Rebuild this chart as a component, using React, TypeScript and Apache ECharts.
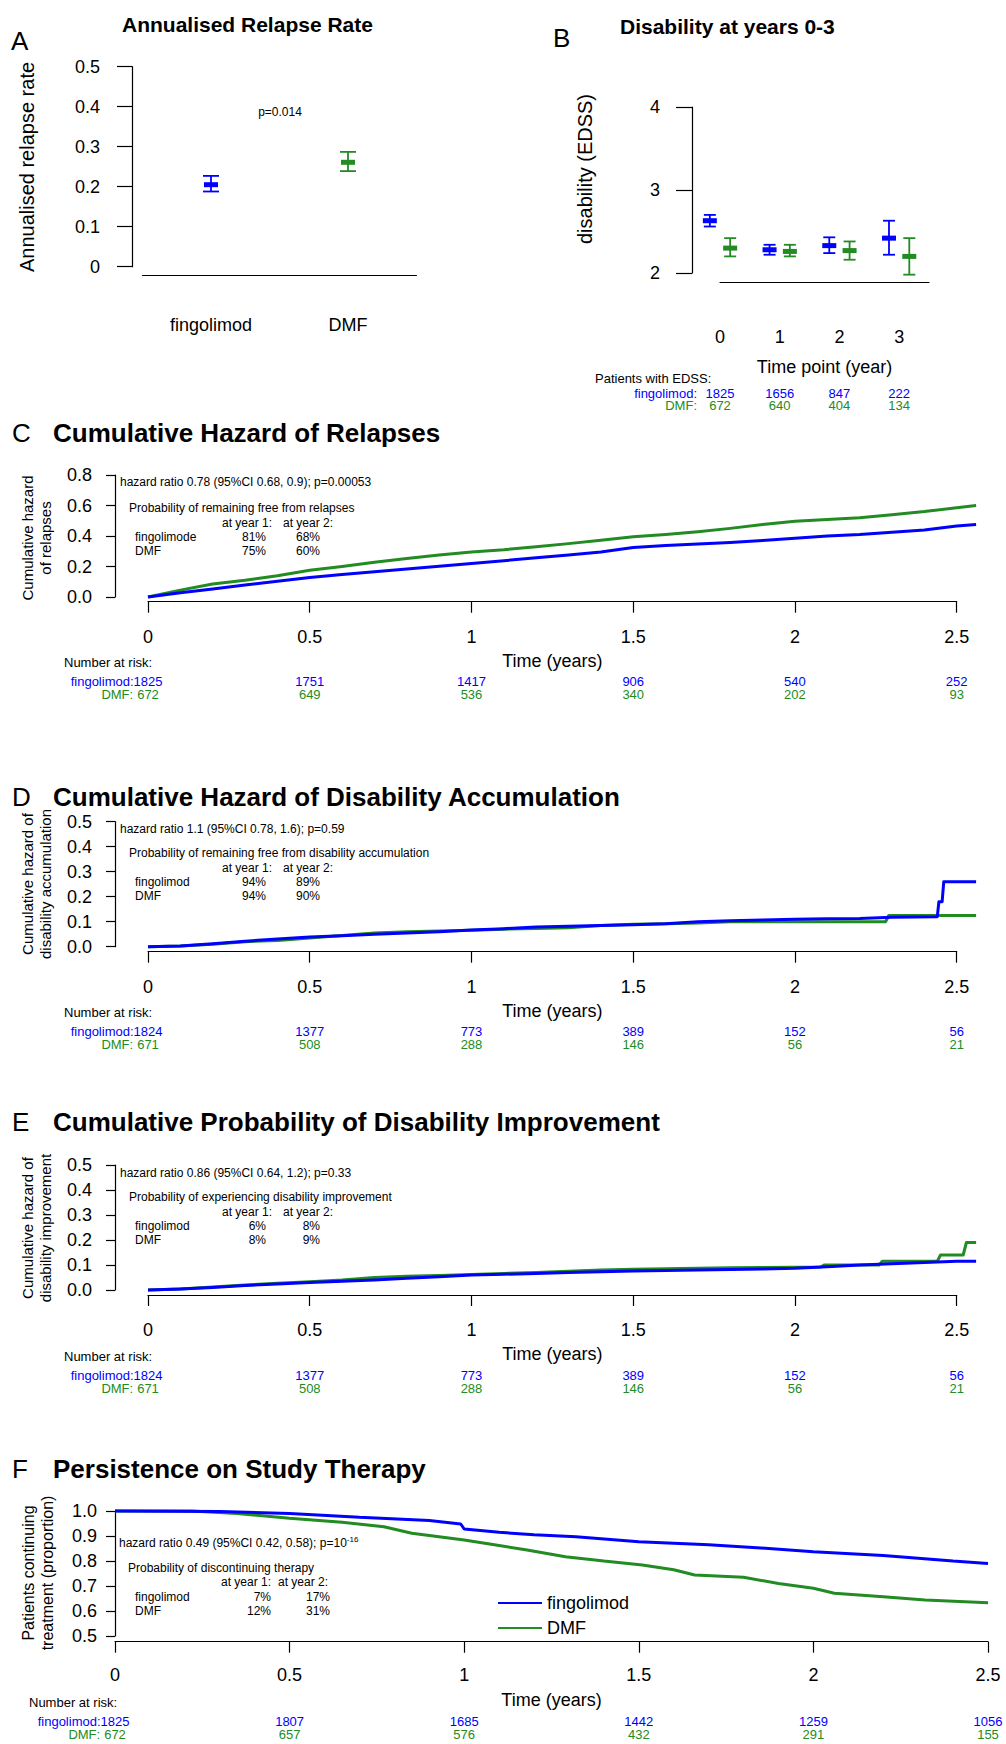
import React, { useEffect, useRef } from 'react';
import * as echarts from 'echarts';

const BLUE = '#0000ff';
const GREEN = '#228b22';
const FONT = "'Liberation Sans', Arial, Helvetica, sans-serif";

// ---------- Panel A: annualised relapse rate ----------
const arrGroups = ['fingolimod', 'DMF'];
const arrMean = [0.205, 0.261];
const arrLow = [0.188, 0.239];
const arrHigh = [0.227, 0.287];
const arrPValue = 'p=0.014';

// ---------- Panel B: disability (EDSS) ----------
const edssYears = [0, 1, 2, 3];
const edssFingMean = [2.63, 2.28, 2.33, 2.42];
const edssFingLow = [2.56, 2.22, 2.24, 2.22];
const edssFingHigh = [2.7, 2.34, 2.43, 2.63];
const edssDmfMean = [2.3, 2.26, 2.27, 2.2];
const edssDmfLow = [2.2, 2.2, 2.16, 1.98];
const edssDmfHigh = [2.42, 2.34, 2.38, 2.42];
const edssNFing = [1825, 1656, 847, 222];
const edssNDmf = [672, 640, 404, 134];

// ---------- shared time ticks for risk tables ----------
const riskTimes = [0, 0.5, 1, 1.5, 2, 2.5];

// ---------- Panel C: cumulative hazard of relapses ----------
const relapseTimes = [0, 0.1, 0.2, 0.3, 0.4, 0.5, 0.6, 0.7, 0.8, 0.9, 1.0, 1.1, 1.2, 1.3, 1.4, 1.5, 1.6, 1.7, 1.8, 1.9, 2.0, 2.1, 2.2, 2.3, 2.4, 2.5, 2.56];
const relapseFing = [0, 0.028, 0.053, 0.078, 0.103, 0.128, 0.148, 0.165, 0.183, 0.202, 0.22, 0.238, 0.257, 0.275, 0.295, 0.325, 0.338, 0.348, 0.358, 0.37, 0.385, 0.4, 0.41, 0.425, 0.44, 0.465, 0.475];
const relapseDmf = [0, 0.045, 0.085, 0.11, 0.14, 0.175, 0.2, 0.228, 0.252, 0.275, 0.295, 0.31, 0.33, 0.35, 0.372, 0.395, 0.41, 0.428, 0.45, 0.475, 0.497, 0.508, 0.52, 0.54, 0.56, 0.585, 0.6];
const relapseRiskFing = [1825, 1751, 1417, 906, 540, 252];
const relapseRiskDmf = [672, 649, 536, 340, 202, 93];
const relapseFreeFing = ['81%', '68%'];
const relapseFreeDmf = ['75%', '60%'];

// ---------- Panel D: cumulative hazard of disability accumulation ----------
const accumFingTimes = [0, 0.1, 0.2, 0.3, 0.4, 0.5, 0.6, 0.7, 0.8, 0.9, 1.0, 1.1, 1.2, 1.3, 1.4, 1.5, 1.6, 1.7, 1.8, 1.9, 2.0, 2.1, 2.2, 2.3, 2.44, 2.445, 2.455, 2.46, 2.56];
const accumFing = [0, 0.003, 0.012, 0.022, 0.031, 0.039, 0.044, 0.05, 0.055, 0.06, 0.067, 0.072, 0.079, 0.082, 0.085, 0.088, 0.092, 0.1, 0.104, 0.107, 0.11, 0.112, 0.113, 0.118, 0.12, 0.18, 0.18, 0.26, 0.26];
const accumDmfTimes = [0, 0.1, 0.2, 0.3, 0.4, 0.5, 0.6, 0.7, 0.8, 0.9, 1.0, 1.1, 1.2, 1.3, 1.4, 1.5, 1.6, 1.7, 1.8, 2.28, 2.29, 2.56];
const accumDmf = [0, 0.003, 0.01, 0.02, 0.025, 0.035, 0.045, 0.055, 0.06, 0.063, 0.066, 0.07, 0.073, 0.076, 0.085, 0.09, 0.092, 0.095, 0.1, 0.1, 0.125, 0.125];
const accumRiskFing = [1824, 1377, 773, 389, 152, 56];
const accumRiskDmf = [671, 508, 288, 146, 56, 21];
const accumFreeFing = ['94%', '89%'];
const accumFreeDmf = ['94%', '90%'];

// ---------- Panel E: cumulative probability of disability improvement ----------
const improveFingTimes = [0, 0.1, 0.2, 0.3, 0.4, 0.5, 0.6, 0.7, 0.8, 0.9, 1.0, 1.1, 1.2, 1.3, 1.4, 1.5, 1.6, 1.7, 1.8, 1.9, 2.0, 2.1, 2.2, 2.3, 2.4, 2.5, 2.56];
const improveFing = [0, 0.004, 0.01, 0.018, 0.024, 0.03, 0.035, 0.04, 0.047, 0.053, 0.06, 0.063, 0.066, 0.07, 0.073, 0.076, 0.078, 0.08, 0.082, 0.084, 0.087, 0.093, 0.1, 0.105, 0.11, 0.115, 0.115];
const improveDmfTimes = [0, 0.1, 0.2, 0.3, 0.4, 0.5, 0.6, 0.7, 0.8, 0.9, 1.0, 1.1, 1.2, 1.3, 1.4, 1.5, 1.6, 1.7, 1.8, 1.9, 2.08, 2.09, 2.26, 2.27, 2.44, 2.45, 2.52, 2.53, 2.56];
const improveDmf = [0, 0.004, 0.012, 0.02, 0.027, 0.033, 0.04, 0.05, 0.055, 0.058, 0.062, 0.066, 0.07, 0.075, 0.08, 0.083, 0.085, 0.087, 0.089, 0.09, 0.092, 0.1, 0.1, 0.115, 0.115, 0.14, 0.14, 0.19, 0.19];
const improveRiskFing = [1824, 1377, 773, 389, 152, 56];
const improveRiskDmf = [671, 508, 288, 146, 56, 21];
const improveProbFing = ['6%', '8%'];
const improveProbDmf = ['8%', '9%'];

// ---------- Panel F: persistence on study therapy ----------
const persistFingTimes = [0, 0.3, 0.5, 0.7, 0.9, 0.99, 1.0, 1.1, 1.2, 1.32, 1.5, 1.7, 1.85, 2.0, 2.2, 2.4, 2.5];
const persistFing = [1.0, 0.998, 0.99, 0.975, 0.962, 0.948, 0.928, 0.915, 0.905, 0.897, 0.877, 0.865, 0.852, 0.837, 0.822, 0.8, 0.79];
const persistDmfTimes = [0, 0.22, 0.35, 0.5, 0.65, 0.77, 0.85, 1.0, 1.1, 1.18, 1.29, 1.4, 1.51, 1.6, 1.66, 1.8, 1.9, 2.0, 2.06, 2.2, 2.32, 2.5];
const persistDmf = [1.0, 1.0, 0.99, 0.971, 0.955, 0.937, 0.911, 0.884, 0.862, 0.844, 0.817, 0.8, 0.784, 0.765, 0.744, 0.735, 0.71, 0.691, 0.671, 0.657, 0.644, 0.633];
const persistRiskFing = [1825, 1807, 1685, 1442, 1259, 1056];
const persistRiskDmf = [672, 657, 576, 432, 291, 155];
const discontFing = ['7%', '17%'];
const discontDmf = ['12%', '31%'];

// ---------------------------------------------------------------
const txt = (text: string, x: number, y: number, fill: string, align: string, fontSize = 13, extra: any = {}) => ({
  type: 'text',
  x,
  y,
  style: { text, fill, fontSize, fontFamily: FONT, align, verticalAlign: 'middle', ...extra },
});

function errorBarSeries(gi: number, data: number[][], colors: string[], cap: number, meanHalf: number) {
  return {
    type: 'custom',
    name: 'errbar' + gi + colors[0],
    xAxisIndex: gi,
    yAxisIndex: gi,
    clip: false,
    silent: true,
    encode: { x: 0, y: 1 },
    data,
    renderItem: (params: any, api: any) => {
      const color = colors[params.dataIndex % colors.length];
      const x = api.value(0);
      const pm = api.coord([x, api.value(1)]);
      const pl = api.coord([x, api.value(2)]);
      const ph = api.coord([x, api.value(3)]);
      const st = { stroke: color, lineWidth: 1.8 };
      return {
        type: 'group',
        children: [
          { type: 'line', shape: { x1: pl[0], y1: pl[1], x2: ph[0], y2: ph[1] }, style: st },
          { type: 'line', shape: { x1: pl[0] - cap, y1: pl[1], x2: pl[0] + cap, y2: pl[1] }, style: st },
          { type: 'line', shape: { x1: ph[0] - cap, y1: ph[1], x2: ph[0] + cap, y2: ph[1] }, style: st },
          { type: 'rect', shape: { x: pm[0] - meanHalf, y: pm[1] - 2.5, width: meanHalf * 2, height: 5 }, style: { fill: color } },
        ],
      };
    },
  };
}

function riskSeries(gi: number, yMin: number, lineOff: number, times: number[], c1: number[], c2: number[], o: any) {
  return {
    type: 'custom',
    name: 'risk' + gi,
    xAxisIndex: gi,
    yAxisIndex: gi,
    clip: false,
    silent: true,
    encode: { x: 0, y: 1 },
    data: times.map((t, i) => [t, yMin, c1[i], c2[i]]),
    renderItem: (params: any, api: any) => {
      const i = params.dataIndex;
      const p = api.coord([api.value(0), api.value(1)]);
      const base = p[1] + lineOff;
      const n1 = String(api.value(2));
      const n2 = String(api.value(3));
      const children: any[] = [
        txt(n1, p[0], base + o.r1, BLUE, 'center'),
        txt(n2, p[0], base + o.r2, GREEN, 'center'),
      ];
      if (i === 0) {
        const dw = 13 * 0.556 * 0.5;
        const x1 = o.fixed != null ? p[0] - o.fixed : p[0] - n1.length * dw - o.gap1;
        const x2 = o.fixed != null ? p[0] - o.fixed : p[0] - n2.length * dw - o.gap2;
        children.push(txt(o.label1, x1, base + o.r1, BLUE, 'right'));
        children.push(txt(o.label2, x2, base + o.r2, GREEN, 'right'));
        children.push(txt(o.header, p[0] + o.headDx, base + o.head, '#000', 'left'));
      }
      return { type: 'group', children };
    },
  };
}

// cumulative curves that may run a little past the last x tick (drawn through the axis scales)
function kmCurve(gi: number, name: string, times: number[], vals: number[], color: string) {
  return {
    type: 'custom',
    name,
    xAxisIndex: gi,
    yAxisIndex: gi,
    clip: false,
    silent: true,
    encode: { x: 0, y: 1 },
    data: times.map((t, i) => [t, vals[i]]),
    renderItem: (params: any, api: any) => {
      if (params.dataIndex !== 0) return null;
      const pts = times.map((t, i) => api.coord([t, vals[i]]));
      return {
        type: 'polyline',
        shape: { points: pts },
        style: { stroke: color, lineWidth: 3, fill: 'none', lineJoin: 'round' },
      };
    },
  };
}

function kmLine(gi: number, name: string, times: number[], vals: number[], color: string) {
  return {
    type: 'line',
    name,
    xAxisIndex: gi,
    yAxisIndex: gi,
    data: times.map((t, i) => [t, vals[i]]),
    symbol: 'none',
    showSymbol: false,
    clip: false,
    silent: true,
    lineStyle: { color, width: 3 },
    itemStyle: { color },
  };
}

const axisLineStyle = { show: true, onZero: false, lineStyle: { color: '#000', width: 1.2 } };
const tickStyle = (length: number) => ({ show: true, length, lineStyle: { color: '#000', width: 1.2 } });

function timeXAxis(gi: number, offset: number, margin: number, nameGap: number) {
  return {
    type: 'value',
    gridIndex: gi,
    min: 0,
    max: 2.5,
    interval: 0.5,
    offset,
    axisLine: axisLineStyle,
    axisTick: tickStyle(11),
    splitLine: { show: false },
    axisLabel: { fontSize: 18, color: '#000', margin, fontFamily: FONT },
    name: 'Time (years)',
    nameLocation: 'middle',
    nameGap,
    nameTextStyle: { fontSize: 18, color: '#000', fontFamily: FONT },
  };
}

function valYAxis(gi: number, min: number, max: number, interval: number, offset: number, tick: number, margin: number, fmt?: (v: number) => string) {
  return {
    type: 'value',
    gridIndex: gi,
    min,
    max,
    interval,
    offset,
    axisLine: axisLineStyle,
    axisTick: tickStyle(tick),
    splitLine: { show: false },
    axisLabel: { fontSize: 18, color: '#000', margin, fontFamily: FONT, formatter: fmt },
  };
}

const fmt1 = (v: number) => v.toFixed(1);

function annotation(lines: { hr: any; prob: string; y: number[]; x: number[]; row1: string; p1: string[]; p2: string[] }) {
  const [yHr, yProb, yYear, yR1, yR2] = lines.y;
  const [xHr, xProb, xY1, xY2, xRow, xP1, xP2] = lines.x;
  const out: any[] = [];
  out.push(typeof lines.hr === 'string' ? txt(lines.hr, xHr, yHr, '#000', 'left', 12) : { ...lines.hr, x: xHr, y: yHr });
  out.push(txt(lines.prob, xProb, yProb, '#000', 'left', 12));
  out.push(txt('at year 1:', xY1, yYear, '#000', 'left', 12));
  out.push(txt('at year 2:', xY2, yYear, '#000', 'left', 12));
  out.push(txt(lines.row1, xRow, yR1, '#000', 'left', 12));
  out.push(txt('DMF', xRow, yR2, '#000', 'left', 12));
  out.push(txt(lines.p1[0], xP1, yR1, '#000', 'right', 12));
  out.push(txt(lines.p1[1], xP2, yR1, '#000', 'right', 12));
  out.push(txt(lines.p2[0], xP1, yR2, '#000', 'right', 12));
  out.push(txt(lines.p2[1], xP2, yR2, '#000', 'right', 12));
  return out;
}

const rot = (text: string, x: number, y: number, fontSize: number, lineHeight: number) => ({
  type: 'text',
  x,
  y,
  rotation: Math.PI / 2,
  style: { text, fill: '#000', fontSize, lineHeight, fontFamily: FONT, align: 'center', verticalAlign: 'middle' },
});

function buildOption() {
  const grids = [
    { left: 142.5, top: 66.7, width: 274, height: 200 },
    { left: 720, top: 107, width: 209, height: 166 },
    { left: 148, top: 475, width: 808.7, height: 122 },
    { left: 148, top: 821.7, width: 808.7, height: 125 },
    { left: 148, top: 1165, width: 808.7, height: 125 },
    { left: 115, top: 1511, width: 873, height: 125 },
  ].map((g) => ({ ...g, containLabel: false, outerBoundsMode: 'none', show: false }));

  const xAxis: any[] = [
    {
      type: 'category',
      gridIndex: 0,
      data: arrGroups,
      boundaryGap: true,
      offset: 8.3,
      axisLine: axisLineStyle,
      axisTick: { show: false },
      axisLabel: { fontSize: 18, color: '#000', margin: 41, fontFamily: FONT },
    },
    {
      type: 'value',
      gridIndex: 1,
      min: 0,
      max: 3.5,
      interval: 1,
      offset: 9,
      axisLine: axisLineStyle,
      axisTick: { show: false },
      splitLine: { show: false },
      axisLabel: {
        fontSize: 18,
        color: '#000',
        margin: 46,
        fontFamily: FONT,
        showMaxLabel: false,
        formatter: (v: number) => (Number.isInteger(v) ? String(v) : ''),
      },
      name: 'Time point (year)',
      nameLocation: 'middle',
      nameGap: 76,
      nameTextStyle: { fontSize: 18, color: '#000', fontFamily: FONT },
    },
    timeXAxis(2, 4.7, 26, 50),
    timeXAxis(3, 5, 26, 50),
    timeXAxis(4, 5, 26, 50),
    timeXAxis(5, 5.7, 24, 49),
  ];

  const yAxis: any[] = [
    valYAxis(0, 0, 0.5, 0.1, 10.5, 15, 32),
    valYAxis(1, 2, 4, 1, 28, 16, 32),
    valYAxis(2, 0, 0.8, 0.2, 33, 9, 23, fmt1),
    valYAxis(3, 0, 0.5, 0.1, 33, 9, 23, fmt1),
    valYAxis(4, 0, 0.5, 0.1, 33, 9, 23, fmt1),
    valYAxis(5, 0.5, 1.0, 0.1, 0, 9, 18, fmt1),
  ];

  const tableCDE = { head: 61, r1: 80, r2: 93, headDx: -84, gap1: 0, gap2: 4, label1: 'fingolimod:', label2: 'DMF:', header: 'Number at risk:' };

  const series: any[] = [
    errorBarSeries(0, arrGroups.map((_, i) => [i, arrMean[i], arrLow[i], arrHigh[i]]), [BLUE, GREEN], 8, 7),
    errorBarSeries(1, edssYears.map((t, i) => [t - 0.17, edssFingMean[i], edssFingLow[i], edssFingHigh[i]]), [BLUE], 6, 7),
    errorBarSeries(1, edssYears.map((t, i) => [t + 0.17, edssDmfMean[i], edssDmfLow[i], edssDmfHigh[i]]), [GREEN], 6, 7),
    riskSeries(1, 2, 9, edssYears, edssNFing, edssNDmf, {
      head: 96, r1: 111, r2: 123, headDx: -125, fixed: 23, label1: 'fingolimod:', label2: 'DMF:', header: 'Patients with EDSS:',
    }),
    kmCurve(2, 'relapses DMF', relapseTimes, relapseDmf, GREEN),
    kmCurve(2, 'relapses fingolimod', relapseTimes, relapseFing, BLUE),
    riskSeries(2, 0, 4.7, riskTimes, relapseRiskFing, relapseRiskDmf, tableCDE),
    kmCurve(3, 'accumulation DMF', accumDmfTimes, accumDmf, GREEN),
    kmCurve(3, 'accumulation fingolimod', accumFingTimes, accumFing, BLUE),
    riskSeries(3, 0, 5, riskTimes, accumRiskFing, accumRiskDmf, tableCDE),
    kmCurve(4, 'improvement DMF', improveDmfTimes, improveDmf, GREEN),
    kmCurve(4, 'improvement fingolimod', improveFingTimes, improveFing, BLUE),
    riskSeries(4, 0, 5, riskTimes, improveRiskFing, improveRiskDmf, tableCDE),
    kmLine(5, 'DMF', persistDmfTimes, persistDmf, GREEN),
    kmLine(5, 'fingolimod', persistFingTimes, persistFing, BLUE),
    riskSeries(5, 0.5, 5.7, riskTimes, persistRiskFing, persistRiskDmf, { ...tableCDE, headDx: -86 }),
  ];

  const titleFont = { fill: '#000', fontFamily: FONT, fontWeight: 'bold', verticalAlign: 'middle', align: 'left' };
  const letter = (t: string, x: number, y: number) => txt(t, x, y, '#000', 'left', 26);
  const title = (t: string, x: number, y: number, fs: number) => ({ type: 'text', x, y, style: { ...titleFont, text: t, fontSize: fs } });

  const hrF = {
    type: 'text',
    style: {
      text: '{a|hazard ratio 0.49 (95%CI 0.42, 0.58); p=10}{s|-16}',
      fill: '#000',
      fontFamily: FONT,
      verticalAlign: 'middle',
      align: 'left',
      rich: {
        a: { fontSize: 12, fontFamily: FONT, fill: '#000' },
        s: { fontSize: 8, fontFamily: FONT, fill: '#000', verticalAlign: 'top', padding: [0, 0, 7, 0] },
      },
    },
  };

  const graphic: any[] = [
    letter('A', 11, 41),
    title('Annualised Relapse Rate', 122, 24, 21),
    rot('Annualised relapse rate', 27, 167, 20, 22),
    txt(arrPValue, 280, 112, '#000', 'center', 12),
    letter('B', 553, 38),
    title('Disability at years 0-3', 620, 26, 21),
    rot('disability (EDSS)', 585, 169, 20, 22),
    letter('C', 12, 433),
    title('Cumulative Hazard of Relapses', 53, 433, 26),
    rot('Cumulative hazard\nof relapses', 36, 538, 15, 18),
    letter('D', 12, 797),
    title('Cumulative Hazard of Disability Accumulation', 53, 797, 26),
    rot('Cumulative hazard of\ndisability accumulation', 36, 884, 15, 18),
    letter('E', 12, 1122),
    title('Cumulative Probability of Disability Improvement', 53, 1122, 26),
    rot('Cumulative hazard of\ndisability improvement', 36, 1228, 15, 18),
    letter('F', 12, 1469),
    title('Persistence on Study Therapy', 53, 1469, 26),
    rot('Patients continuing\ntreatment (proportion)', 38, 1573, 16, 19),
    ...annotation({
      hr: 'hazard ratio 0.78 (95%CI 0.68, 0.9); p=0.00053',
      prob: 'Probability of remaining free from relapses',
      y: [482, 508, 523, 537, 551],
      x: [120, 129, 222, 283, 135, 266, 320],
      row1: 'fingolimode',
      p1: relapseFreeFing,
      p2: relapseFreeDmf,
    }),
    ...annotation({
      hr: 'hazard ratio 1.1 (95%CI 0.78, 1.6); p=0.59',
      prob: 'Probability of remaining free from disability accumulation',
      y: [829, 853, 868, 882, 896],
      x: [120, 129, 222, 283, 135, 266, 320],
      row1: 'fingolimod',
      p1: accumFreeFing,
      p2: accumFreeDmf,
    }),
    ...annotation({
      hr: 'hazard ratio 0.86 (95%CI 0.64, 1.2); p=0.33',
      prob: 'Probability of experiencing disability improvement',
      y: [1173, 1197, 1212, 1226, 1240],
      x: [120, 129, 222, 283, 135, 266, 320],
      row1: 'fingolimod',
      p1: improveProbFing,
      p2: improveProbDmf,
    }),
    ...annotation({
      hr: hrF,
      prob: 'Probability of discontinuing therapy',
      y: [1543, 1568, 1582, 1597, 1611],
      x: [119, 128, 221, 278, 135, 271, 330],
      row1: 'fingolimod',
      p1: discontFing,
      p2: discontDmf,
    }),
  ];

  return {
    animation: false,
    backgroundColor: '#ffffff',
    textStyle: { fontFamily: FONT },
    grid: grids,
    xAxis,
    yAxis,
    series,
    legend: {
      data: ['fingolimod', 'DMF'],
      orient: 'vertical',
      left: 492,
      top: 1589,
      itemWidth: 44,
      itemHeight: 14,
      itemGap: 7,
      selectedMode: false,
      itemStyle: { opacity: 0 },
      textStyle: { fontSize: 18, color: '#000', fontFamily: FONT },
    },
    graphic,
  };
}

export default function App() {
  const ref = useRef<HTMLDivElement>(null);
  useEffect(() => {
    if (!ref.current) return;
    const chart = echarts.init(ref.current, null, { renderer: 'svg' });
    chart.setOption(buildOption() as any);
    return () => chart.dispose();
  }, []);
  return <div ref={ref} style={{ position: 'absolute', left: 0, top: 0, width: 1006, height: 1744, background: '#fff' }} />;
}
